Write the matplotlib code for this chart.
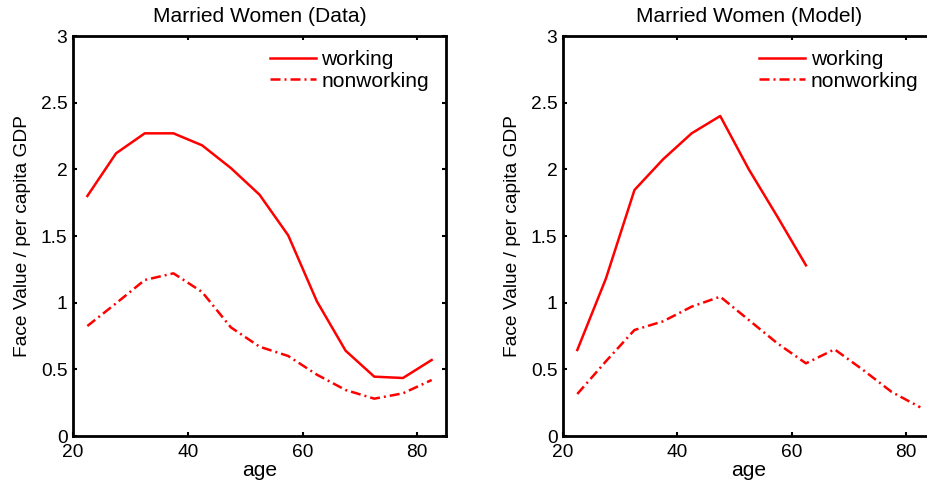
import matplotlib
matplotlib.use("Agg")
import matplotlib.pyplot as plt
from matplotlib.ticker import FuncFormatter

plt.rcParams['font.family'] = ['Liberation Sans', 'DejaVu Sans']

age = [22.5, 27.5, 32.5, 37.5, 42.5, 47.5, 52.5, 57.5, 62.5, 67.5, 72.5, 77.5, 82.5]
data_working = [1.80, 2.12, 2.27, 2.27, 2.18, 2.01, 1.81, 1.505, 1.01, 0.64, 0.445, 0.435, 0.57]
data_nonworking = [0.825, 0.995, 1.17, 1.22, 1.08, 0.815, 0.67, 0.60, 0.46, 0.345, 0.28, 0.32, 0.42]

age_model_working = [22.5, 27.5, 32.5, 37.5, 42.5, 47.5, 52.5, 57.5, 62.5]
model_working = [0.645, 1.18, 1.845, 2.075, 2.27, 2.40, 2.0, 1.645, 1.28]
model_nonworking = [0.315, 0.56, 0.795, 0.86, 0.97, 1.045, 0.87, 0.695, 0.545, 0.65, 0.495, 0.33, 0.215]

titles = ["Married Women (Data)", "Married Women (Model)"]
xticks = [20, 40, 60, 80]
yticks = [0, 0.5, 1, 1.5, 2, 2.5, 3]

W, H = 927, 486
fig = plt.figure(figsize=(W / 100, H / 100), dpi=100)
fs = 13.75

def px_axes(x0, x1, ytop, ybot):
    return [x0 / W, (H - ybot) / H, (x1 - x0) / W, (ybot - ytop) / H]

ax1 = fig.add_axes(px_axes(73, 446, 36, 436))
ax2 = fig.add_axes(px_axes(563, 934.6, 36, 436))

red = '#ff0000'
series = [
    (ax1, age, data_working, age, data_nonworking, titles[0]),
    (ax2, age_model_working, model_working, age, model_nonworking, titles[1]),
]
for ax, xw, yw, xn, yn, title in series:
    ax.plot(xw, yw, color=red, lw=1.8, ls='-', label='working')
    ax.plot(xn, yn, color=red, lw=1.8, ls=(0, (4, 1.6, 0.8, 1.6)), label='nonworking')
    ax.set_xlim(20, 85)
    ax.set_ylim(0, 3)
    ax.set_xticks(xticks)
    ax.set_yticks(yticks)
    ax.yaxis.set_major_formatter(FuncFormatter(lambda v, p: '%g' % v))
    ax.tick_params(direction='in', top=True, right=True, length=3, width=1.5,
                   labelsize=fs)
    ax.tick_params(axis='y', pad=4)
    ax.tick_params(axis='x', pad=6)
    for s in ax.spines.values():
        s.set_linewidth(2.0)
    ax.set_title(title, fontsize=fs * 1.1, pad=10)
    ax.set_xlabel('age', fontsize=fs * 1.1, labelpad=0)
    ax.set_ylabel('Face Value / per capita GDP', fontsize=fs, labelpad=7)
    ax.legend(loc='upper left', bbox_to_anchor=(0.528, 0.965), frameon=False,
              fontsize=fs * 1.1, handlelength=2.2, handletextpad=0.25,
              borderaxespad=0, borderpad=0, labelspacing=0.12)

fig.savefig('out.png', dpi=100)
